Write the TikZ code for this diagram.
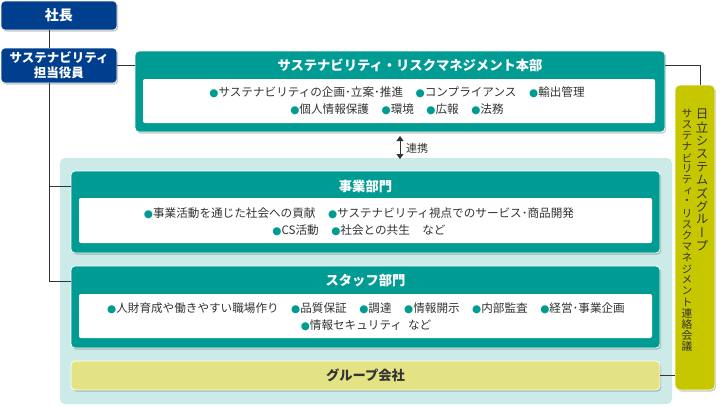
\documentclass[tikz,border=0pt]{standalone}
\usepackage{fontspec}
\setmainfont{Noto Sans CJK JP}
\newfontfamily\vfont[RawFeature=+vert]{Noto Sans CJK JP}
\newfontfamily\dejavu{DejaVu Sans}
\usetikzlibrary{shadows,arrows.meta}
\definecolor{navy}{HTML}{003F8E}
\definecolor{tealc}{HTML}{009B93}
\definecolor{bgcyan}{HTML}{CCEAE8}
\definecolor{ylight}{HTML}{E3E384}
\definecolor{olive}{HTML}{C7C700}
\definecolor{txt}{HTML}{333333}
\newcommand{\bu}{{\color{tealc}\dejavu\fontsize{10.5}{10}\selectfont ●}}
\newcommand{\gap}{\hspace{12.5pt}}
\tikzset{
  shad/.style={drop shadow={shadow xshift=1.2pt,shadow yshift=-1.5pt,fill=black,opacity=0.22}},
  box/.style={anchor=north west,inner sep=0pt,outer sep=0pt,rounded corners=4pt},
  navybox/.style={box,fill=navy,draw=white,line width=0.6pt,shad},
  tealbox/.style={box,fill=tealc,draw=white,line width=0.8pt,shad},
  whitebox/.style={box,fill=white,rounded corners=2pt},
  ttl/.style={text=white,font=\bfseries\fontsize{13.3}{15}\selectfont,inner sep=0pt},
  body/.style={text=txt,font=\fontsize{11.6}{17}\selectfont,inner sep=0pt,align=center},
  conn/.style={draw=txt,line width=0.8pt},
  vch/.style={inner sep=0pt,text=txt}
}
\begin{document}
\begin{tikzpicture}[x=1pt,y=-1pt]
\useasboundingbox (0,0) rectangle (721,405);
% background region
\node[box,fill=bgcyan,rounded corners=5pt,minimum width=612pt,minimum height=246pt] (bg) at (60,158) {};
% president
\node[navybox,minimum width=116pt,minimum height=29pt] (pres) at (1,1) {};
\node[ttl,font=\bfseries\fontsize{14}{15}\selectfont] (prest) at (pres.center) {社長};
% executive
\node[navybox,minimum width=116pt,minimum height=35pt] (exec) at (1,48) {};
\node[ttl,align=center,font=\bfseries\fontsize{12.5}{15}\selectfont] (exect) at (exec.center) {サステナビリティ\\担当役員};
% headquarters
\node[tealbox,minimum width=530pt,minimum height=81pt] (hq) at (135,51) {};
\node[whitebox,minimum width=512pt,minimum height=44pt] (hqw) at (143,79) {};
\node[ttl] (hqt) at (410,65) {サステナビリティ・リスクマネジメント本部};
\node[body] (hqb) at (397,100.5) {\bu サステナビリティの企画･立案･推進\gap\bu コンプライアンス\gap\bu 輸出管理\\\bu 個人情報保護\gap\bu 環境\gap\bu 広報\gap\bu 法務};
% business division
\node[tealbox,minimum width=589pt,minimum height=82pt] (biz) at (71,171) {};
\node[whitebox,minimum width=573pt,minimum height=45pt] (bizw) at (79,198) {};
\node[ttl] (bizt) at (365.5,186) {事業部門};
\node[body] (bizb) at (359,221.5) {\bu 事業活動を通じた社会への貢献\gap\bu サステナビリティ視点でのサービス･商品開発\\\bu CS活動\gap\bu 社会との共生\gap など};
% staff division
\node[tealbox,minimum width=589pt,minimum height=82pt] (staff) at (71,266) {};
\node[whitebox,minimum width=573pt,minimum height=44pt] (staffw) at (79,294) {};
\node[ttl] (stafft) at (365.5,281) {スタッフ部門};
\node[body] (staffb) at (366,316.5) {\bu 人財育成や働きやすい職場作り\gap\bu 品質保証\gap\bu 調達\gap\bu 情報開示\gap\bu 内部監査\gap\bu 経営･事業企画\\\bu 情報セキュリティ\hspace{6pt}など};
% group companies
\node[box,fill=ylight,draw=white,line width=0.8pt,shad,minimum width=589pt,minimum height=29pt] (grp) at (71,361) {};
\node[ttl,text=txt] (grpt) at (grp.center) {グループ会社};
% council
\node[box,fill=olive,draw=white,line width=0.6pt,shad,rounded corners=5pt,minimum width=40pt,minimum height=305pt] (cn) at (675,85) {};
\foreach \c [count=\i] in {日,立,シ,ス,テ,ム,ズ,グ,ル,ー,プ}
  \node[vch,font=\vfont\fontsize{12.5}{12.5}\selectfont] (r\i) at (702,{108+6.5+(\i-1)*13.1}) {\c};
\foreach \c [count=\i] in {サ,ス,テ,ナ,ビ,リ,テ,ィ,・,リ,ス,ク,マ,ネ,ジ,メ,ン,ト,連,絡,会,議}
  \node[vch,font=\vfont\fontsize{10.8}{10.8}\selectfont] (l\i) at (687,{108+5.5+(\i-1)*11.1}) {\c};
% connectors
\coordinate (vx) at (49,0);
\coordinate (cx) at (700,0);
\draw[conn] (pres.south -| vx) -- (exec.north -| vx);
\draw[conn] (exec.east) -- (exec.east -| hq.west);
\draw[conn] (exec.south -| vx) |- (stafft -| staff.west);
\draw[conn] (bizt -| vx) -- (bizt -| biz.west);
\draw[conn] (hqt -| hq.east) -| (cn.north -| cx);
\draw[conn] (grp.east) -- (grp.east -| cn.west);
\coordinate (a1) at (400,136);
\coordinate (a2) at (400,159);
\draw[conn,line width=1pt,{Triangle[width=7pt,length=5pt]}-{Triangle[width=7pt,length=5pt]}] (a1) -- (a2);
\node[body,font=\fontsize{11}{13}\selectfont,anchor=west] (lk) at (406,148) {連携};
\end{tikzpicture}
\end{document}
